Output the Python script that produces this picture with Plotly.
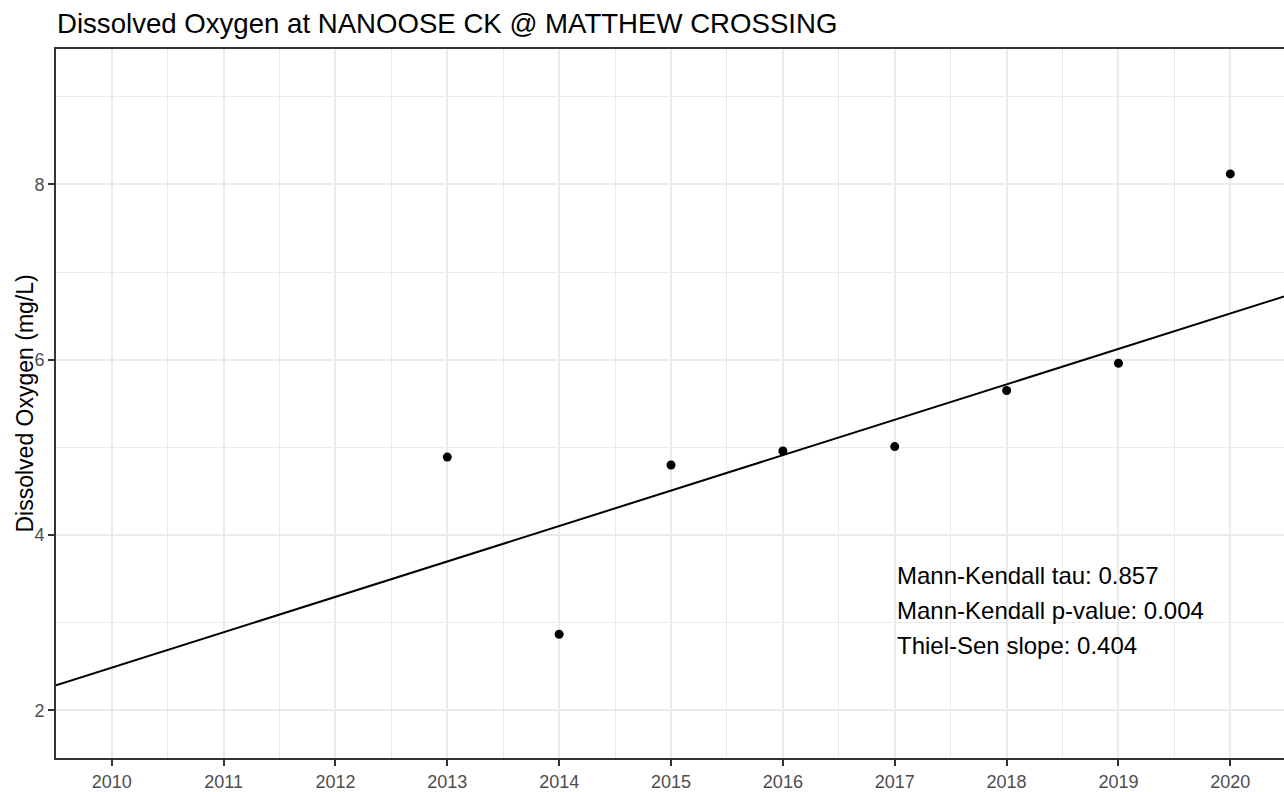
import plotly.graph_objects as go

# ---- data ----
years = [2013, 2014, 2015, 2016, 2017, 2018, 2019, 2020]
do_values = [4.89, 2.87, 4.80, 4.96, 5.01, 5.65, 5.96, 8.12]
trend_slope = 0.404          # Thiel-Sen slope (mg/L per year)
trend_at_2013 = 3.70         # trend line value at 2013
x_ticks = [2010, 2011, 2012, 2013, 2014, 2015, 2016, 2017, 2018, 2019, 2020]
y_ticks = [2, 4, 6, 8]
stat_lines = [
    "Mann-Kendall tau: 0.857",
    "Mann-Kendall p-value: 0.004",
    "Thiel-Sen slope: 0.404",
]
stat_y = [3.54, 3.14, 2.745]
title_text = "Dissolved Oxygen at NANOOSE CK @ MATTHEW CROSSING"
y_title = "Dissolved Oxygen (mg/L)"

x_range = [2009.502, 2020.48]
y_range = [1.458, 9.545]

FONT = "Liberation Sans, Arial, sans-serif"
GRID = "#EBEBEB"
AXC = "#333333"

trend_x = list(x_range)
trend_y = [trend_at_2013 + trend_slope * (x - 2013) for x in trend_x]

fig = go.Figure()
fig.add_trace(go.Scatter(
    x=trend_x, y=trend_y, mode="lines",
    line=dict(color="black", width=2), hoverinfo="skip", showlegend=False,
))
fig.add_trace(go.Scatter(
    x=years, y=do_values, mode="markers",
    marker=dict(color="black", size=9), showlegend=False,
))

for txt, yv in zip(stat_lines, stat_y):
    fig.add_annotation(
        x=2017.005, y=yv, xref="x", yref="y", text=txt, showarrow=False,
        xanchor="left", yanchor="middle",
        font=dict(family=FONT, size=24, color="black"),
    )

fig.add_annotation(
    x=0, y=0.5, xref="paper", yref="paper", text=y_title, showarrow=False,
    textangle=-90, xanchor="center", yanchor="middle", xshift=-32,
    font=dict(family=FONT, size=23, color="black"),
)

fig.update_layout(
    width=1284, height=792,
    margin=dict(l=56, r=0, t=49, b=31),
    paper_bgcolor="white", plot_bgcolor="white",
    title=dict(
        text=title_text, xref="container", x=57 / 1284, xanchor="left",
        yref="container", y=1 - 23 / 792, yanchor="middle",
        font=dict(family=FONT, size=27.6, color="black"),
    ),
    font=dict(family=FONT),
)

fig.update_xaxes(
    range=x_range, tickmode="array", tickvals=x_ticks,
    ticktext=[str(v) for v in x_ticks],
    showgrid=True, gridcolor=GRID, gridwidth=1.5,
    minor=dict(tick0=2009.5, dtick=0.5, showgrid=True, gridcolor=GRID,
               gridwidth=1, ticklen=0),
    showline=True, linecolor=AXC, linewidth=2, mirror=True,
    ticks="outside", ticklen=6, tickwidth=2, tickcolor=AXC,
    tickfont=dict(family=FONT, size=18, color="#4D4D4D"),
    zeroline=False,
)
fig.update_yaxes(
    range=y_range, tickmode="array", tickvals=y_ticks,
    ticktext=[str(v) for v in y_ticks],
    showgrid=True, gridcolor=GRID, gridwidth=1.5,
    minor=dict(tick0=0, dtick=1, showgrid=True, gridcolor=GRID,
               gridwidth=1, ticklen=0),
    showline=True, linecolor=AXC, linewidth=2,
    ticks="outside", ticklen=6, tickwidth=2, tickcolor=AXC,
    tickfont=dict(family=FONT, size=18, color="#4D4D4D"),
    zeroline=False,
)

fig.write_html(
    "out.html",
    config={"displayModeBar": False},
    post_script="document.body.style.margin='0';document.body.style.overflow='hidden';",
)
